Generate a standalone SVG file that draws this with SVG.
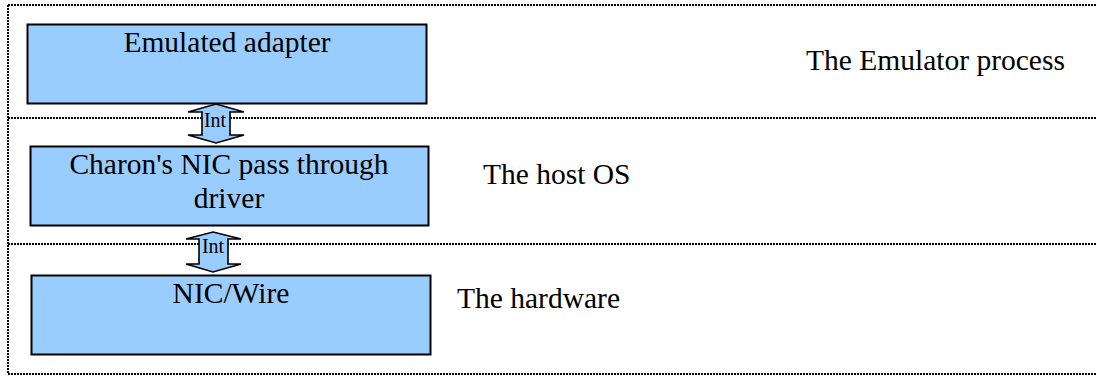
<svg xmlns="http://www.w3.org/2000/svg" width="1097" height="377" viewBox="0 0 1097 377">
<style>
.frame{fill:none;stroke:#000;stroke-width:2;stroke-dasharray:2 1}
.box{fill:#99CCFF;stroke:#000;stroke-width:2}
.arrow{fill:#99CCFF;stroke:#000;stroke-width:1.6;stroke-linejoin:miter}
.t{font-family:"Liberation Serif","Times New Roman",serif;font-size:29.5px;fill:#000}
.s{font-family:"Liberation Serif","Times New Roman",serif;font-size:20px;fill:#000}
</style>
<g id="frame">
<line class="frame" x1="8" y1="5" x2="1097" y2="5"/>
<line class="frame" x1="8" y1="5" x2="8" y2="374"/>
<line class="frame" x1="8" y1="118" x2="1097" y2="118"/>
<line class="frame" x1="8" y1="244" x2="1097" y2="244"/>
<line class="frame" x1="8" y1="374" x2="1097" y2="374"/>
</g>
<g id="layer-labels">
<text class="t" x="806" y="70">The Emulator process</text>
<text class="t" x="483" y="184">The host OS</text>
<text class="t" x="457" y="308">The hardware</text>
</g>
<g id="emulated-adapter">
<rect class="box" x="27.5" y="24.5" width="399" height="79"/>
<text class="t" x="227" y="52" text-anchor="middle">Emulated adapter</text>
</g>
<g id="charon-driver">
<rect class="box" x="30.5" y="146.5" width="398" height="79"/>
<text class="t" x="229" y="174" text-anchor="middle">Charon's NIC pass through</text>
<text class="t" x="229" y="208" text-anchor="middle">driver</text>
</g>
<g id="nic-wire">
<rect class="box" x="31.5" y="275.5" width="399" height="79"/>
<text class="t" x="231" y="303" text-anchor="middle">NIC/Wire</text>
</g>
<g id="connectors">
<g id="int-1">
<path class="arrow" d="M216,104 L244,112 L230,112 L230,135 L244,135 L216,143 L188,135 L202,135 L202,112 L188,112 Z"/>
<text class="s" x="215" y="127" text-anchor="middle">Int</text>
</g>
<g id="int-2">
<path class="arrow" d="M213,232 L241,239 L228,239 L228,264 L241,264 L213,272 L186,264 L199,264 L199,239 L186,239 Z"/>
<text class="s" x="213" y="253" text-anchor="middle">Int</text>
</g>
</g>
</svg>
